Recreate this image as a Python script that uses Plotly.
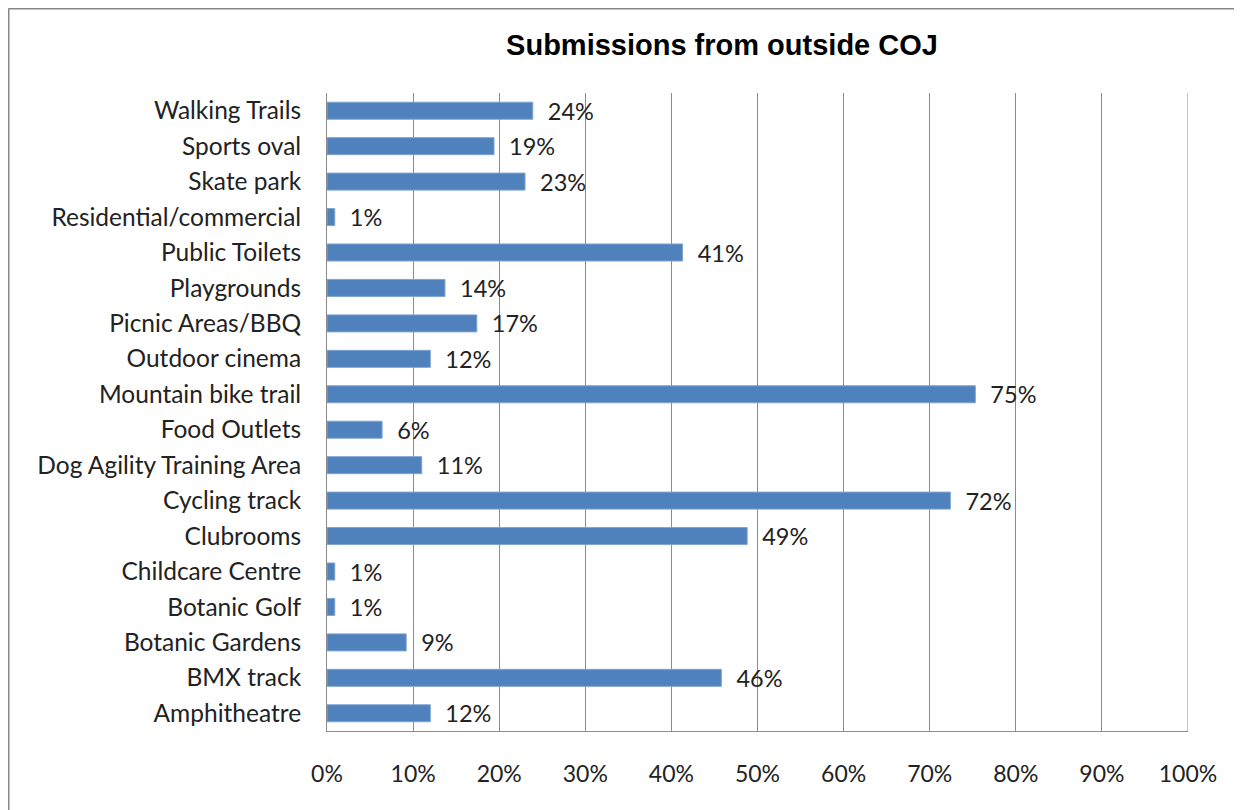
import plotly.graph_objects as go

categories = ["Amphitheatre", "BMX track", "Botanic Gardens", "Botanic Golf", "Childcare Centre",
              "Clubrooms", "Cycling track", "Dog Agility Training Area", "Food Outlets",
              "Mountain bike trail", "Outdoor cinema", "Picnic Areas/BBQ", "Playgrounds",
              "Public Toilets", "Residential/commercial", "Skate park", "Sports oval", "Walking Trails"]
values = [0.120, 0.458, 0.092, 0.009, 0.009,
          0.488, 0.724, 0.110, 0.064,
          0.753, 0.120, 0.174, 0.137,
          0.413, 0.009, 0.230, 0.194, 0.239]
x_ticks = [0, 0.1, 0.2, 0.3, 0.4, 0.5, 0.6, 0.7, 0.8, 0.9, 1.0]
x_tick_labels = ["0%", "10%", "20%", "30%", "40%", "50%", "60%", "70%", "80%", "90%", "100%"]

label_font = "Lato, 'Open Sans', sans-serif"

W, H = 1234, 802
L, R, T, B = 319, 54, 85, 79
PW, PH = W - L - R, H - T - B

fig = go.Figure(go.Bar(
    x=values, y=categories, orientation="h",
    marker=dict(color="#4F81BD", line=dict(color="#7FA3D0", width=1)),
    texttemplate="\u00a0\u00a0%{x:.0%}",
    textposition="outside", cliponaxis=False, constraintext="none",
    textfont=dict(family=label_font, size=23.5, color="#222222"),
))

grid_color = "#8C8C8C"
fig.update_layout(
    width=W, height=H,
    margin=dict(l=L, r=R, t=T, b=B),
    paper_bgcolor="white", plot_bgcolor="white",
    showlegend=False,
    bargap=0.52,
    title=dict(text="<b>Submissions from outside COJ</b>", x=714 / W, xanchor="center",
               y=1 - 37 / H, yanchor="middle",
               font=dict(family="Liberation Sans, Arial, sans-serif", size=29, color="#000000")),
    xaxis=dict(range=[0, 1.0], tickvals=x_ticks, ticktext=x_tick_labels,
               showgrid=True, gridcolor=grid_color, gridwidth=1,
               showline=True, linecolor=grid_color, linewidth=1, mirror=False,
               zeroline=False, ticks="", ticklabelstandoff=22,
               tickfont=dict(family=label_font, size=23, color="#222222")),
    yaxis=dict(showline=True, linecolor=grid_color, linewidth=1, ticks="",
               showgrid=False, ticklabelstandoff=20,
               tickfont=dict(family=label_font, size=24.5, color="#222222")),
    shapes=[
        dict(type="line", xref="paper", yref="paper", x0=(0.5 - L) / PW, x1=(W - L) / PW,
             y0=1 + (T - 0.5) / PH, y1=1 + (T - 0.5) / PH,
             line=dict(color="#888888", width=2)),
        dict(type="line", xref="paper", yref="paper", x0=(0.5 - L) / PW, x1=(0.5 - L) / PW,
             y0=1 + (T - 0.5) / PH, y1=-B / PH,
             line=dict(color="#888888", width=2)),
        dict(type="line", xref="x", yref="paper", x0=1.0, x1=1.0, y0=0, y1=1,
             line=dict(color=grid_color, width=1)),
    ],
)

fig.write_html("out.html", config={"displayModeBar": False})
